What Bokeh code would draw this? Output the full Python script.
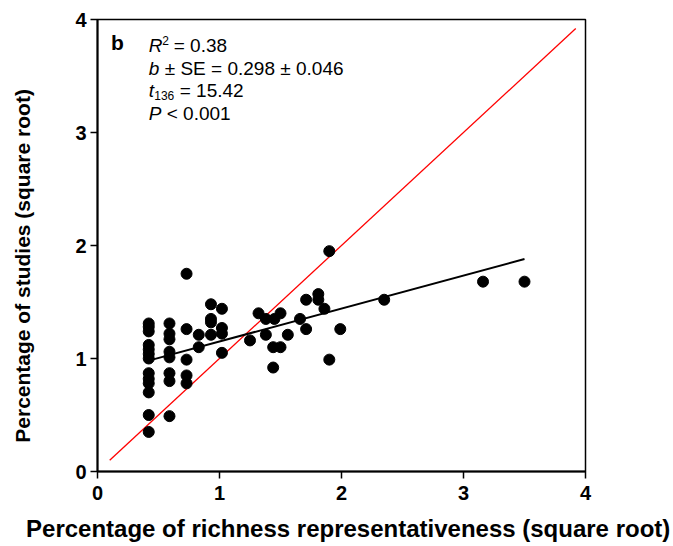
from bokeh.plotting import figure
from bokeh.models import Range1d, Label, FixedTicker
from bokeh.embed import file_html
from bokeh.resources import INLINE

# sqrt(% richness representativeness)
rich_x = [0.42, 0.42, 0.42, 0.42, 0.42, 0.42, 0.42, 0.42, 0.42, 0.42, 0.42, 0.42, 0.42,
          0.59, 0.59, 0.59, 0.59, 0.59, 0.59, 0.59, 0.59,
          0.73, 0.73, 0.73, 0.73, 0.73,
          0.83, 0.83,
          0.93, 0.93, 0.93, 0.93,
          1.02, 1.02, 1.02, 1.02,
          1.25, 1.32, 1.38, 1.45, 1.50, 1.38, 1.44, 1.50, 1.44, 1.56,
          1.66, 1.71, 1.71, 1.81, 1.81, 1.86, 1.90, 1.90, 1.99, 2.35,
          3.16, 3.50]
# sqrt(% studies)
studies_y = [1.31, 1.28, 1.24, 1.12, 1.08, 1.04, 1.00, 0.87, 0.82, 0.78, 0.70, 0.50, 0.35,
             1.31, 1.22, 1.17, 1.06, 1.01, 0.87, 0.80, 0.49,
             1.75, 1.26, 0.99, 0.85, 0.78,
             1.21, 1.10,
             1.48, 1.35, 1.32, 1.21,
             1.44, 1.27, 1.22, 1.05,
             1.16, 1.40, 1.35, 1.35, 1.40, 1.21, 1.10, 1.10, 0.92, 1.21,
             1.35, 1.52, 1.26, 1.57, 1.52, 1.44, 1.95, 0.99, 1.26, 1.52,
             1.68, 1.68]

fit_x = [0.45, 3.50]
fit_y = [0.99, 1.88]
ref_x = [0.10, 3.92]
ref_y = [0.10, 3.92]
ticks = [0, 1, 2, 3, 4]

FONT = "Liberation Sans"
NBSP = "\u00a0"

p = figure(width=673, height=546, x_range=Range1d(0, 4), y_range=Range1d(0, 4),
           output_backend="svg", toolbar_location=None,
           min_border_left=97, min_border_right=88, min_border_top=19, min_border_bottom=75)
p.grid.visible = False
p.outline_line_color = "black"
p.outline_line_width = 1.5
p.background_fill_color = "white"
p.border_fill_color = "white"

for ax in (p.xaxis[0], p.yaxis[0]):
    ax.ticker = FixedTicker(ticks=ticks)
    ax.minor_tick_line_color = None
    ax.major_tick_in = 0
    ax.major_tick_out = 7
    ax.major_tick_line_width = 1.5
    ax.axis_line_width = 2
    ax.major_label_text_font = FONT
    ax.major_label_text_font_style = "bold"
    ax.major_label_text_font_size = "20px"
    ax.major_label_text_color = "black"
    ax.axis_label_text_font = FONT
    ax.axis_label_text_font_style = "bold"
    ax.axis_label_text_color = "black"

# non-breaking spaces only nudge the centred titles, as in the reference layout
p.xaxis.axis_label = NBSP * 2 + "Percentage of richness representativeness (square root)"
p.xaxis.axis_label_text_font_size = "24px"
p.xaxis.major_label_standoff = 7
p.xaxis.axis_label_standoff = 12
p.yaxis.axis_label = "Percentage of studies (square root)" + NBSP * 7
p.yaxis.axis_label_text_font_size = "21px"
p.yaxis.major_label_standoff = 4
p.yaxis.axis_label_standoff = 38

p.line(ref_x, ref_y, line_color="red", line_width=1.3)
p.line(fit_x, fit_y, line_color="black", line_width=2)
p.scatter(rich_x, studies_y, size=11, fill_color="black", line_color="black")

def lab(text, x, y, xo=0, yo=0, size="19px", style="normal"):
    p.add_layout(Label(x=x, y=y, x_offset=xo, y_offset=yo, text=text,
                       text_font=FONT, text_font_size=size, text_font_style=style,
                       text_color="black", text_baseline="middle", text_align="left"))

tx = 0.42
lab("b", 0.11, 3.80, size="21px", style="bold")
lab("R", tx, 3.77, style="italic")
lab("2", tx, 3.77, xo=13.5, yo=5, size="12px")
lab("= 0.38", tx, 3.77, xo=25)
lab("b", tx, 3.565, style="italic")
lab("± SE = 0.298 ± 0.046", tx, 3.565, xo=16)
lab("t", tx, 3.37, style="italic")
lab("136", tx, 3.37, xo=5.5, yo=-5, size="12px")
lab("= 15.42", tx, 3.37, xo=31)
lab("P", tx, 3.165, style="italic")
lab("< 0.001", tx, 3.165, xo=18)

open("out.html", "w").write(file_html(p, INLINE))
